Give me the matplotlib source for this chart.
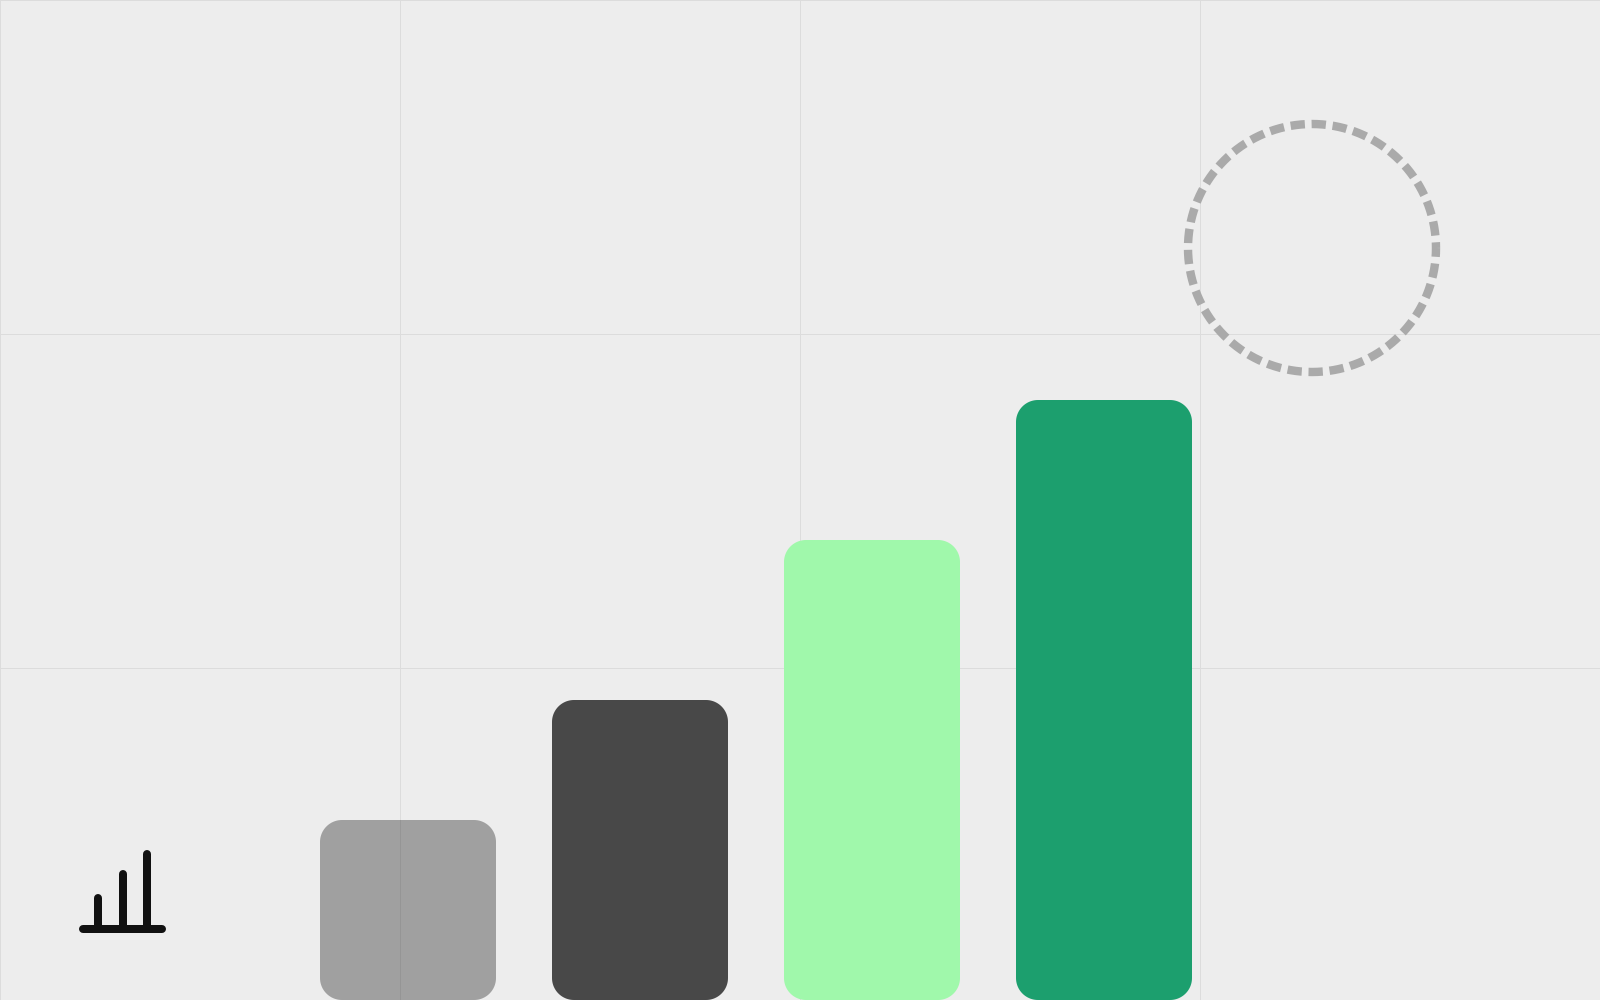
import numpy as np
import matplotlib
matplotlib.use("Agg")
import matplotlib.pyplot as plt
from matplotlib.patches import Polygon

WIDTH, HEIGHT = 1600, 1000
PX = 72 / 100  # points per pixel at dpi=100

# Data
bar_lefts = [320, 552, 784, 1016]
bar_values = [180, 300, 460, 600]
bar_colors = ["#111111", "#111111", "#a0f8ab", "#1c9f6e"]
bar_alphas = [0.35, 0.75, 1.0, 1.0]
BAR_WIDTH = 176
BAR_RADIUS = 22

grid_x = [0, 400, 800, 1200]
grid_y = [1000, 666, 332]

icon_bars_x = [98, 122.5, 147]
icon_bars_top = [102.5, 126.5, 146.5]
icon_base_y = 71.5
icon_base_x = [83, 162]

circle_center = (1312, 752)
circle_radius = 124
DASH_ON, DASH_OFF, DASH_PHASE = 14.3, 6.75, 5.5
STROKE = 8.4


def rounded_rect(left, bottom, width, height, r):
    t = np.linspace(0, np.pi / 2, 24)
    right, top = left + width, bottom + height
    xs = np.concatenate([right - r + r * np.sin(t), right - r + r * np.cos(t),
                         left + r - r * np.sin(t), left + r - r * np.cos(t)])
    ys = np.concatenate([bottom + r - r * np.cos(t), top - r + r * np.sin(t),
                         top - r + r * np.cos(t), bottom + r - r * np.sin(t)])
    return np.column_stack([xs, ys])


fig = plt.figure(figsize=(16, 10), dpi=100, facecolor="#ededed")
ax = fig.add_axes([0, 0, 1, 1], facecolor="#ededed")
ax.set_xlim(0, WIDTH)
ax.set_ylim(0, HEIGHT)
ax.axis("off")

for x in grid_x:
    ax.axvline(x, color="#dcdcdc", lw=1 * PX, zorder=1, clip_on=False)
for y in grid_y:
    ax.axhline(y, color="#dcdcdc", lw=1 * PX, zorder=1, clip_on=False)

for left, val, col, alpha in zip(bar_lefts, bar_values, bar_colors, bar_alphas):
    ax.add_patch(Polygon(rounded_rect(left, 0, BAR_WIDTH, val, BAR_RADIUS), closed=True,
                         facecolor=col, edgecolor="none", alpha=alpha, zorder=2))

# Dashed circle: path starts at 3 o'clock and runs clockwise
theta = np.linspace(0, 2 * np.pi, 721)
ax.plot(circle_center[0] + circle_radius * np.cos(theta),
        circle_center[1] - circle_radius * np.sin(theta),
        color="#aaaaaa", lw=STROKE * PX, dash_capstyle="butt",
        linestyle=(DASH_PHASE / STROKE, (DASH_ON / STROKE, DASH_OFF / STROKE)), zorder=3)

# Icon
for x, top in zip(icon_bars_x, icon_bars_top):
    ax.plot([x, x], [icon_base_y + 3, top], color="#111111", lw=8 * PX,
            solid_capstyle="round", zorder=4)
ax.plot(icon_base_x, [icon_base_y, icon_base_y], color="#111111", lw=8 * PX,
        solid_capstyle="round", zorder=4)

fig.savefig("out.png", dpi=100, facecolor=fig.get_facecolor())
